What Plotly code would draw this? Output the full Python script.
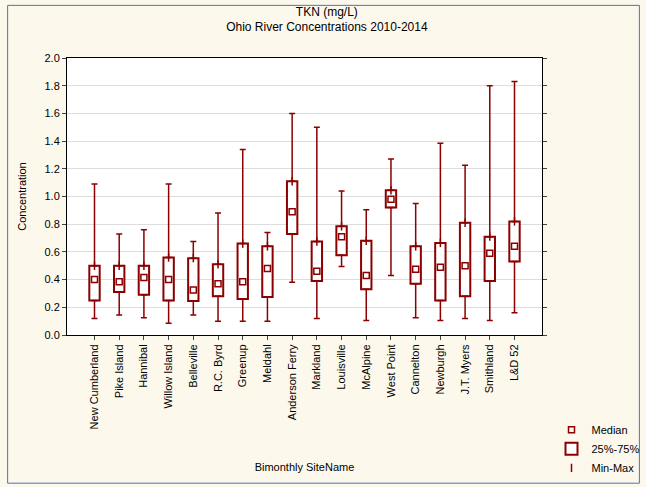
import plotly.graph_objects as go

sites = ["New Cumberland", "Pike Island", "Hannibal", "Willow Island", "Belleville",
         "R.C. Byrd", "Greenup", "Meldahl", "Anderson Ferry", "Markland", "Louisville",
         "McAlpine", "West Point", "Cannelton", "Newburgh", "J.T. Myers", "Smithland", "L&D 52"]
mins = [0.12, 0.145, 0.125, 0.085, 0.145, 0.10, 0.10, 0.10, 0.38, 0.12, 0.495,
        0.105, 0.43, 0.125, 0.105, 0.12, 0.105, 0.16]
q1 = [0.25, 0.31, 0.29, 0.25, 0.245, 0.28, 0.26, 0.275, 0.73, 0.39, 0.575,
      0.33, 0.92, 0.37, 0.25, 0.28, 0.39, 0.53]
medians = [0.40, 0.385, 0.415, 0.40, 0.325, 0.37, 0.385, 0.48, 0.89, 0.46, 0.71,
           0.43, 0.98, 0.475, 0.49, 0.50, 0.59, 0.64]
q3 = [0.50, 0.50, 0.50, 0.56, 0.555, 0.51, 0.66, 0.64, 1.11, 0.675, 0.785,
      0.68, 1.045, 0.64, 0.665, 0.81, 0.71, 0.82]
maxs = [1.09, 0.73, 0.76, 1.09, 0.675, 0.88, 1.34, 0.74, 1.60, 1.50, 1.04,
        0.905, 1.27, 0.95, 1.385, 1.225, 1.80, 1.83]

red = "#8b0000"
fig = go.Figure()

# whiskers, upper and lower half
fig.add_trace(go.Scatter(x=sites, y=q3, mode="markers",
                         marker=dict(symbol="line-ns", size=6, color=red, line=dict(width=1.5, color=red)),
                         error_y=dict(type="data", symmetric=False,
                                      array=[a - b for a, b in zip(maxs, q3)],
                                      arrayminus=[0] * len(sites),
                                      color=red, thickness=1.5, width=3),
                         name="Min-Max", legendrank=3))
fig.add_trace(go.Scatter(x=sites, y=q1, mode="markers", marker=dict(size=0.1, color=red, opacity=0),
                         error_y=dict(type="data", symmetric=False,
                                      array=[0] * len(sites),
                                      arrayminus=[a - b for a, b in zip(q1, mins)],
                                      color=red, thickness=1.5, width=3),
                         showlegend=False))
# boxes
fig.add_trace(go.Bar(x=sites, y=[a - b for a, b in zip(q3, q1)], base=q1, width=0.42,
                     marker=dict(color="white", line=dict(color=red, width=2)),
                     name="25%-75%", legendrank=2))
# medians
fig.add_trace(go.Scatter(x=sites, y=medians, mode="markers",
                         marker=dict(symbol="square-open", size=6, color=red, line=dict(width=1.5)),
                         name="Median", legendrank=1))

fig.update_layout(
    width=646, height=487,
    paper_bgcolor="#fdf8ec", plot_bgcolor="white",
    margin=dict(l=67, r=104, t=58, b=152, autoexpand=False),
    font=dict(family="Liberation Sans, Arial", size=11, color="black"),
    title=dict(text="TKN (mg/L)<br>Ohio River Concentrations 2010-2014", x=0.506, xanchor="center",
               y=0.968, yanchor="top", font=dict(size=12)),
    showlegend=True,
    legend=dict(x=1.02, xanchor="left", y=-0.29, yanchor="top", bgcolor="rgba(0,0,0,0)",
                font=dict(size=11), tracegroupgap=0),
    shapes=[dict(type="rect", xref="paper", yref="paper", x0=-0.125, x1=1.205, y0=-0.535, y1=1.19,
                 line=dict(color="#4a74b8", width=1))],
)
fig.update_xaxes(tickangle=-90, showline=True, linecolor="black", mirror=True, automargin=False,
                 ticks="outside", ticklen=4,
                 title=dict(text="Bimonthly SiteName", font=dict(size=11), standoff=34))
fig.update_yaxes(range=[0, 2.0], dtick=0.2, tickformat=".1f", showgrid=True, gridcolor="#dddddd",
                 showline=True, linecolor="black", mirror="ticks", ticks="outside", ticklen=4,
                 automargin=False,
                 title=dict(text="Concentration", font=dict(size=11)), zeroline=False)

fig.write_html("out.html", config={"displayModeBar": False},
               post_script="document.body.style.margin='0';")
